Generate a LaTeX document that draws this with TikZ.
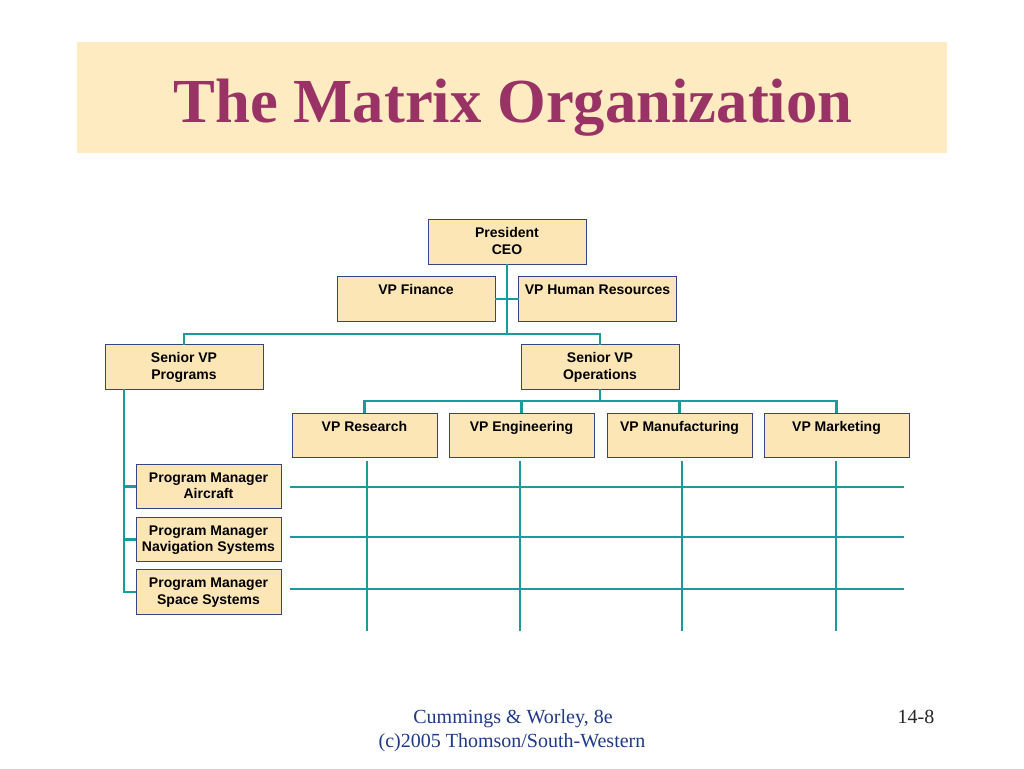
\documentclass[tikz,border=0pt]{standalone}
\usepackage{fontspec}
\setmainfont{Liberation Serif}
\newfontfamily\arialf{Liberation Sans}
\definecolor{bandfill}{HTML}{FFEBC2}
\definecolor{boxfill}{HTML}{FDE6B6}
\definecolor{boxline}{HTML}{34457F}
\definecolor{teal2}{HTML}{1A9A9A}
\definecolor{titlec}{HTML}{993366}
\definecolor{footblue}{HTML}{1F3A86}
\newcommand\bxt[2]{\parbox[c][33.5pt][t]{#1}{\centering\rule{0pt}{13.5pt}#2}}
\tikzset{
  orgbox/.style={draw=boxline, line width=0.75pt, fill=boxfill, inner sep=0pt, outer sep=0pt,
    font=\arialf\bfseries\fontsize{10.5pt}{12.5pt}\selectfont},
  wl/.style={draw=teal2, line width=1.6pt},
}
\begin{document}
\begin{tikzpicture}[x=0.75pt,y=-0.75pt]
\useasboundingbox (0,0) rectangle (1024,768);
\fill[white] (0,0) rectangle (1024,768);
% title band
\fill[bandfill] (77,42) rectangle (947,153);
\node[anchor=base, text=titlec, font=\bfseries\fontsize{47pt}{50pt}\selectfont, inner sep=0pt] (title) at (513,122) {The Matrix Organization};

% boxes
\node[orgbox] (ceo) at (507,242) {\bxt{118.5pt}{President\\CEO}};
\node[orgbox] (fin) at (416,299) {\bxt{118.5pt}{VP Finance}};
\node[orgbox] (hr) at (597.5,299) {\bxt{118.5pt}{VP Human Resources}};
\node[orgbox] (svpp) at (184,367) {\bxt{118.5pt}{Senior VP\\Programs}};
\node[orgbox] (svpo) at (600,367) {\bxt{118.5pt}{Senior VP\\Operations}};
\node[orgbox] (res) at (364.5,435.5) {\bxt{108.75pt}{VP Research}};
\node[orgbox] (eng) at (521.5,435.5) {\bxt{108.75pt}{VP Engineering}};
\node[orgbox] (man) at (679.5,435.5) {\bxt{108.75pt}{VP Manufacturing}};
\node[orgbox] (mkt) at (836.5,435.5) {\bxt{108.75pt}{VP Marketing}};
\node[orgbox] (pma) at (208.5,486.5) {\bxt{108.75pt}{Program Manager\\Aircraft}};
\node[orgbox] (pmn) at (208.5,539.5) {\bxt{108.75pt}{Program Manager\\Navigation Systems}};
\node[orgbox] (pms) at (208.5,592) {\bxt{108.75pt}{Program Manager\\Space Systems}};

% connectors
\coordinate (busA) at (507,334);
\coordinate (busB) at (600,401);
\coordinate (spine) at (124,592);
\draw[wl] (ceo.south) -- (busA);
\draw[wl] (fin.east) -- (hr.west);
\draw[wl] (svpp.north) |- (busA) -| (svpo.north);
\draw[wl] (svpo.south) -- (busB);
\draw[wl] (res.north) |- (busB) -| (mkt.north);
\draw[wl] (eng.north) -- (eng.north |- busB);
\draw[wl] (man.north) -- (man.north |- busB);
\draw[wl] (svpp.south -| spine) -- (spine) -- (pms.west);
\draw[wl] (pma.west) -- (pma.west -| spine);
\draw[wl] (pmn.west) -- (pmn.west -| spine);

% matrix grid
\coordinate (c1t) at (367,461); \coordinate (c1b) at (367,631);
\coordinate (c2t) at (520,461); \coordinate (c2b) at (520,631);
\coordinate (c3t) at (682,461); \coordinate (c3b) at (682,631);
\coordinate (c4t) at (836,461); \coordinate (c4b) at (836,631);
\coordinate (r1l) at (290,487); \coordinate (r1r) at (904,487);
\coordinate (r2l) at (290,537); \coordinate (r2r) at (904,537);
\coordinate (r3l) at (290,589); \coordinate (r3r) at (904,589);
\draw[wl] (c1t) -- (c1b);
\draw[wl] (c2t) -- (c2b);
\draw[wl] (c3t) -- (c3b);
\draw[wl] (c4t) -- (c4b);
\draw[wl] (r1l) -- (r1r);
\draw[wl] (r2l) -- (r2r);
\draw[wl] (r3l) -- (r3r);

% footer
\node[anchor=base, text=footblue, font=\fontsize{15pt}{17pt}\selectfont, inner sep=0pt] (foot1) at (513,723) {Cummings \& Worley, 8e};
\node[anchor=base, text=footblue, font=\fontsize{15pt}{17pt}\selectfont, inner sep=0pt] (foot2) at (512,747) {(c)2005 Thomson/South-Western};
\node[anchor=base, text=black!85, font=\fontsize{15pt}{17pt}\selectfont, inner sep=0pt] (pg) at (916,723) {14-8};
\end{tikzpicture}
\end{document}
